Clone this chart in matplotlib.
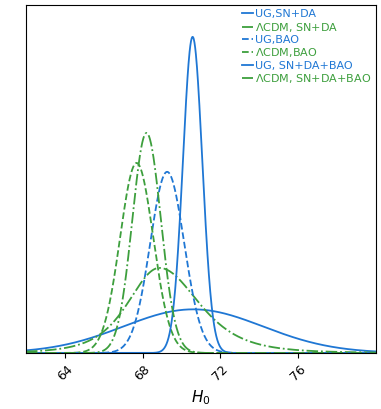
import numpy as np
import matplotlib
matplotlib.use('Agg')
import matplotlib.pyplot as plt

# posterior curves of H0
labels = ['UG,SN+DA', r'$\Lambda$CDM, SN+DA', 'UG,BAO', r'$\Lambda$CDM,BAO',
          'UG, SN+DA+BAO', r'$\Lambda$CDM, SN+DA+BAO']
centres = [70.6, 68.86, 69.26, 67.69, 70.57, 68.2]
sigma_left = [3.6, 1.67, 0.87, 0.85, 0.5, 0.73]
sigma_right = [3.6, 2.1, 0.88, 0.86, 0.5, 0.74]
tail_nu = [200, 4, 200, 200, 200, 200]
peaks = [0.138, 0.269, 0.573, 0.601, 1.0, 0.696]

farben = ['#1f77d4', '#3d9f3d', '#1f77d4', '#3d9f3d', '#1f77d4', '#3d9f3d']
stile = ['-', '-.', '--', '--', '-', '-.']

def kurve(x, mu, sl, sr, nu, peak):
    s = np.where(x < mu, sl, sr)
    z = (x - mu) / s
    return peak * (1 + z ** 2 / nu) ** (-(nu + 1) / 2)

fig = plt.figure(figsize=(3.81, 4.09), dpi=100)
ax = fig.add_axes([0.068, 0.137, 0.919, 0.851])

x = np.linspace(62, 80, 1000)
for i in range(len(labels)):
    y = kurve(x, centres[i], sigma_left[i], sigma_right[i], tail_nu[i], peaks[i])
    ax.plot(x, y, color=farben[i], linestyle=stile[i], lw=1.3, label=labels[i])

ax.set_xlim(62, 80)
ax.set_ylim(0, 1.101)
ax.set_xticks([64, 68, 72, 76])
ax.set_xticklabels(['64', '68', '72', '76'], rotation=45, fontsize=9)
ax.set_yticks([])
ax.set_xlabel(r'$H_0$', fontsize=11)

ax.legend(loc='upper right', frameon=False, fontsize=8, labelcolor='linecolor',
          handlelength=1.0, handletextpad=0.2, labelspacing=0.12,
          borderaxespad=0.2, borderpad=0.2)

fig.savefig('out.png', dpi=100)
